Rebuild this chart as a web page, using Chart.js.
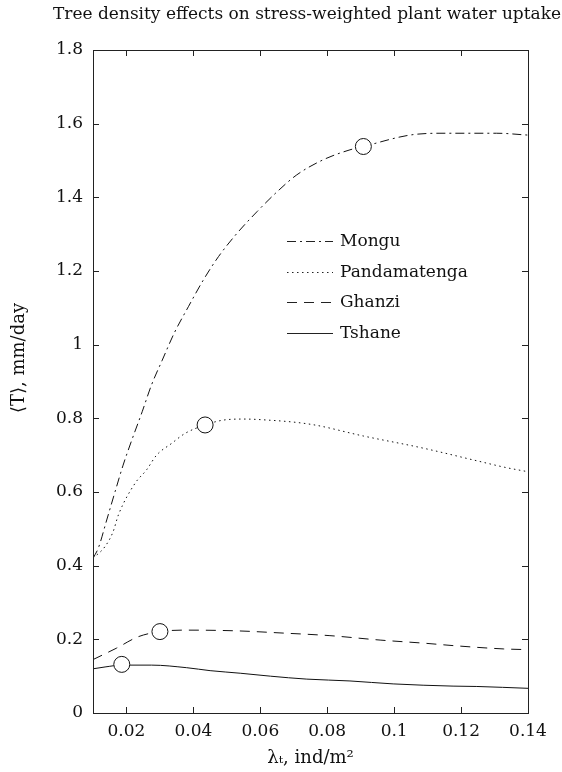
<!DOCTYPE html>
<html><head><meta charset="utf-8">
<script src="https://cdn.jsdelivr.net/npm/chart.js@4/dist/chart.umd.min.js"></script>
<style>html,body{margin:0;padding:0;background:#fff}#wrap{width:562px;height:772px;position:relative}</style>
</head><body><div id="wrap"><canvas id="c" width="562" height="772"></canvas></div>
<script>
const titleText = "Tree density effects on stress-weighted plant water uptake";
const xLabel = "λₜ, ind/m²";
const yLabel = "⟨T⟩, mm/day";
const seriesNames = ["Mongu", "Pandamatenga", "Ghanzi", "Tshane"];

const monguX = [0.010, 0.0116, 0.0141, 0.0166, 0.019, 0.0216, 0.0247, 0.0275, 0.0307, 0.0343, 0.0385, 0.043, 0.0475, 0.053, 0.059, 0.065, 0.0709, 0.0788, 0.0868, 0.0908, 0.1047, 0.1137, 0.1306, 0.14];
const monguY = [0.42, 0.448, 0.524, 0.601, 0.673, 0.741, 0.818, 0.891, 0.958, 1.032, 1.103, 1.176, 1.239, 1.302, 1.361, 1.415, 1.461, 1.502, 1.529, 1.538, 1.569, 1.574, 1.574, 1.569];

const pandaX = [0.010, 0.0136, 0.016, 0.0176, 0.0226, 0.026, 0.029, 0.0335, 0.0375, 0.0435, 0.0488, 0.055, 0.059, 0.0749, 0.0908, 0.1087, 0.1246, 0.1331, 0.14];
const pandaY = [0.42, 0.452, 0.492, 0.538, 0.624, 0.66, 0.70, 0.732, 0.759, 0.782, 0.795, 0.798, 0.797, 0.784, 0.752, 0.719, 0.685, 0.667, 0.655];

const ghanziX = [0.010, 0.017, 0.0235, 0.030, 0.0375, 0.053, 0.0668, 0.0808, 0.0958, 0.1097, 0.1176, 0.1326, 0.14];
const ghanziY = [0.145, 0.176, 0.207, 0.221, 0.225, 0.223, 0.217, 0.21, 0.198, 0.189, 0.183, 0.174, 0.172];

const tshaneX = [0.010, 0.0136, 0.0186, 0.0275, 0.038, 0.045, 0.054, 0.063, 0.0739, 0.0868, 0.0997, 0.1176, 0.1247, 0.14];
const tshaneY = [0.12, 0.125, 0.13, 0.13, 0.123, 0.115, 0.108, 0.1, 0.092, 0.087, 0.079, 0.073, 0.072, 0.067];

const markerX = [0.0908, 0.0435, 0.030, 0.0186];
const markerY = [1.538, 0.782, 0.221, 0.132];

const xTicks = [0.02, 0.04, 0.06, 0.08, 0.1, 0.12, 0.14];
const yTicks = [0, 0.2, 0.4, 0.6, 0.8, 1, 1.2, 1.4, 1.6, 1.8];

const FONT = "'DejaVu Serif', 'Liberation Serif', serif";
const dashes = [[9, 4, 2, 4], [1.5, 3.5], [10, 7], []];

function pts(xs, ys) { return xs.map((x, i) => ({x: x, y: ys[i]})); }
const lineData = [pts(monguX, monguY), pts(pandaX, pandaY), pts(ghanziX, ghanziY), pts(tshaneX, tshaneY)];

const datasets = seriesNames.map((n, i) => ({
  label: n, data: lineData[i], borderColor: '#111', borderWidth: 1, borderDash: dashes[i],
  pointRadius: 0, showLine: true, fill: false, cubicInterpolationMode: 'monotone', order: 2
}));
datasets.push({
  label: 'markers', data: pts(markerX, markerY), showLine: false, pointRadius: 8,
  pointBackgroundColor: '#fff', pointBorderColor: '#111', pointBorderWidth: 1, order: 1
});

const framePlugin = {
  id: 'frame',
  afterDraw(chart) {
    const {ctx, chartArea: a, scales} = chart;
    ctx.save();
    ctx.strokeStyle = '#222';
    ctx.lineWidth = 1;
    ctx.setLineDash([]);
    ctx.strokeRect(a.left + 0.5, a.top + 0.5, a.right - a.left, a.bottom - a.top);
    const L = 6;
    ctx.beginPath();
    scales.x.ticks.forEach(t => {
      const px = Math.round(scales.x.getPixelForValue(t.value)) + 0.5;
      ctx.moveTo(px, a.bottom); ctx.lineTo(px, a.bottom - L);
      ctx.moveTo(px, a.top); ctx.lineTo(px, a.top + L);
    });
    scales.y.ticks.forEach(t => {
      const py = Math.round(scales.y.getPixelForValue(t.value)) + 0.5;
      ctx.moveTo(a.left, py); ctx.lineTo(a.left + L, py);
      ctx.moveTo(a.right, py); ctx.lineTo(a.right - L, py);
    });
    ctx.stroke();
    // title
    ctx.fillStyle = '#111';
    ctx.font = "17px " + FONT;
    ctx.textBaseline = 'middle';
    ctx.textAlign = 'left';
    ctx.fillText(titleText, 53, 15);
    // legend
    const lx = 287, lw = 46, ly0 = 241, dy = 30.5;
    seriesNames.forEach((n, i) => {
      const y = Math.round(ly0 + i * dy) + 0.5;
      ctx.beginPath();
      ctx.setLineDash(dashes[i]);
      ctx.moveTo(lx, y); ctx.lineTo(lx + lw, y);
      ctx.stroke();
      ctx.setLineDash([]);
      ctx.fillText(n, lx + lw + 7, y);
    });
    // y axis label (placed slightly above centre as in the reference)
    ctx.save();
    ctx.translate(19, 358);
    ctx.rotate(-Math.PI / 2);
    ctx.font = "18px " + FONT;
    ctx.textAlign = 'center';
    ctx.textBaseline = 'middle';
    ctx.fillText(yLabel, 0, 0);
    ctx.restore();
    ctx.restore();
  }
};

new Chart(document.getElementById('c'), {
  type: 'scatter',
  data: {datasets},
  options: {
    responsive: false, animation: false,
    layout: {padding: {left: 0, right: 34, top: 50, bottom: 0}},
    plugins: {legend: {display: false}, tooltip: {enabled: false}, title: {display: false}},
    scales: {
      x: {
        type: 'linear', min: 0.01, max: 0.14,
        grid: {display: false, drawTicks: false}, border: {display: false},
        afterBuildTicks: s => { s.ticks = xTicks.map(v => ({value: v})); },
        afterFit: s => { s.height = 59; },
        ticks: {color: '#111', font: {family: FONT, size: 17}, padding: 8, maxRotation: 0, callback: v => String(+v.toFixed(2))},
        title: {display: true, text: xLabel, color: '#111', font: {family: FONT, size: 18}, padding: {top: 0, bottom: 3}}
      },
      y: {
        type: 'linear', min: 0, max: 1.8,
        grid: {display: false, drawTicks: false}, border: {display: false},
        afterBuildTicks: s => { s.ticks = yTicks.map(v => ({value: v})); },
        afterFit: s => { s.width = 93; },
        ticks: {color: '#111', font: {family: FONT, size: 17}, padding: 10, callback: v => String(+v.toFixed(1))},
        title: {display: false, text: yLabel}
      }
    }
  },
  plugins: [framePlugin]
});
</script></body></html>
